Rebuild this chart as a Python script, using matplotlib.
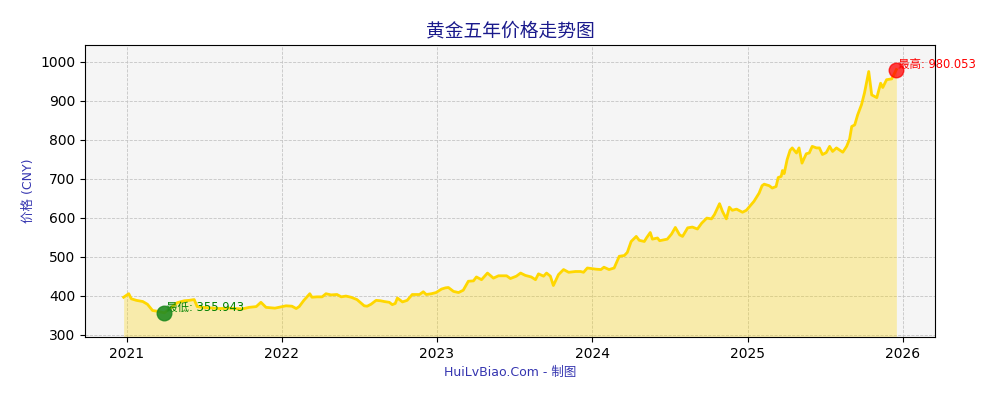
import numpy as np
import pandas as pd
import matplotlib
matplotlib.use('Agg')
import matplotlib.pyplot as plt
import matplotlib.dates as mdates

plt.rcParams['font.family'] = ['DejaVu Sans', 'Noto Sans CJK SC']
plt.rcParams['axes.unicode_minus'] = False

# fechas y precios (aprox.)
dates = [
    '2020-12-25', '2021-01-06', '2021-01-12', '2021-01-24', '2021-02-08', '2021-02-19',
    '2021-03-03', '2021-03-15', '2021-03-31', '2021-04-14', '2021-04-30', '2021-05-17',
    '2021-05-28', '2021-06-09', '2021-06-16', '2021-06-30', '2021-07-14', '2021-08-07',
    '2021-08-30', '2021-09-30', '2021-10-16', '2021-11-02', '2021-11-13', '2021-11-25',
    '2021-12-16',
    '2022-01-11', '2022-01-25', '2022-02-04', '2022-02-11', '2022-02-22', '2022-03-08',
    '2022-03-13', '2022-03-25', '2022-04-06', '2022-04-15', '2022-04-27', '2022-05-11',
    '2022-05-21', '2022-06-01', '2022-06-13', '2022-06-27', '2022-07-14', '2022-07-21',
    '2022-07-30', '2022-08-11', '2022-08-21', '2022-08-30', '2022-09-11', '2022-09-18',
    '2022-09-25', '2022-09-30', '2022-10-12', '2022-10-23', '2022-11-04', '2022-11-21',
    '2022-11-30', '2022-12-07', '2022-12-19', '2022-12-30',
    '2023-01-12', '2023-01-21', '2023-01-28', '2023-02-09', '2023-02-21', '2023-03-04',
    '2023-03-16', '2023-03-28', '2023-04-04', '2023-04-16', '2023-04-30', '2023-05-14',
    '2023-05-26', '2023-06-14', '2023-06-23', '2023-07-07', '2023-07-17', '2023-07-28',
    '2023-08-11', '2023-08-21', '2023-08-28', '2023-09-09', '2023-09-16', '2023-09-25',
    '2023-10-02', '2023-10-14', '2023-10-26', '2023-11-07', '2023-11-23', '2023-12-05',
    '2023-12-12', '2023-12-21',
    '2024-01-10', '2024-01-22', '2024-01-29', '2024-02-10', '2024-02-22', '2024-03-05',
    '2024-03-17', '2024-03-24', '2024-04-02', '2024-04-14', '2024-04-21', '2024-05-03',
    '2024-05-08', '2024-05-17', '2024-05-22', '2024-06-03', '2024-06-08', '2024-06-26',
    '2024-07-06', '2024-07-15', '2024-07-25', '2024-08-01', '2024-08-13', '2024-08-24',
    '2024-09-05', '2024-09-15', '2024-09-27', '2024-10-08', '2024-10-15', '2024-10-27',
    '2024-11-03', '2024-11-12', '2024-11-19', '2024-11-26', '2024-12-06', '2024-12-20',
    '2024-12-29',
    '2025-01-09', '2025-01-16', '2025-01-28', '2025-02-04', '2025-02-09', '2025-02-21',
    '2025-02-28', '2025-03-09', '2025-03-14', '2025-03-21', '2025-03-24', '2025-03-28',
    '2025-04-04', '2025-04-11', '2025-04-16', '2025-04-26', '2025-05-02', '2025-05-09',
    '2025-05-19', '2025-05-26', '2025-06-02', '2025-06-12', '2025-06-19', '2025-06-26',
    '2025-07-05', '2025-07-13', '2025-07-20', '2025-07-29', '2025-08-10', '2025-08-13',
    '2025-08-22', '2025-08-29', '2025-09-03', '2025-09-10', '2025-09-17', '2025-09-26',
    '2025-10-03', '2025-10-13', '2025-10-20', '2025-11-01', '2025-11-10', '2025-11-15',
    '2025-11-24', '2025-12-06', '2025-12-17',
]
prices = [
    396, 405, 392, 388, 385, 378,
    362, 360, 355.943, 368, 382, 387,
    388, 390, 372, 370, 369, 367,
    368, 366, 370, 372, 383, 370,
    368,
    374, 373, 367, 372, 388, 405,
    396, 397, 397, 405, 402, 403,
    397, 399, 396, 390, 374, 373,
    378, 388, 387, 385, 383, 377,
    380, 394, 384, 388, 403, 403,
    410, 403, 405, 408,
    417, 420, 421, 411, 408, 414,
    437, 438, 448, 441, 458, 445,
    451, 451, 444, 450, 458, 452,
    448, 441, 456, 450, 458, 450,
    426, 454, 467, 460, 462, 462,
    460, 471,
    468, 467, 473, 467, 471, 501,
    503, 511, 539, 552, 542, 539,
    548, 562, 545, 548, 541, 545,
    558, 575, 556, 552, 574, 576,
    571, 586, 599, 597, 608, 636,
    616, 597, 627, 619, 622, 614,
    619,
    633, 642, 663, 682, 686, 682,
    676, 680, 703, 706, 721, 713,
    749, 773, 779, 766, 779, 740,
    764, 766, 783, 779, 779, 762,
    767, 783, 770, 779, 770, 768,
    783, 802, 834, 838, 864, 890,
    920, 975, 915, 908, 945, 934,
    954, 956, 980.053,
]

x = pd.to_datetime(dates)
y = np.array(prices)

i_min = int(np.argmin(y))
i_max = int(np.argmax(y))

fig = plt.figure(figsize=(10, 4), dpi=100)
ax = fig.add_axes([0.085, 0.1575, 0.85, 0.73])
ax.set_facecolor('#f5f5f5')

ax.plot(x, y, color='#FFD700', linewidth=2, zorder=3)
ax.fill_between(x, y, 0, color='#FFD700', alpha=0.3, linewidth=0, zorder=2)

# minimo y maximo
ax.scatter([x[i_min]], [y[i_min]], s=110, color='forestgreen', alpha=0.9, zorder=4)
ax.scatter([x[i_max]], [y[i_max]], s=110, color='red', alpha=0.75, zorder=4)
ax.annotate('最低: %.3f' % y[i_min], xy=(x[i_min], y[i_min]), xytext=(1, -1),
            textcoords='offset points', ha='left', va='bottom', fontsize=8.3, color='green')
ax.annotate('最高: %.3f' % y[i_max], xy=(x[i_max], y[i_max]), xytext=(1, -1),
            textcoords='offset points', ha='left', va='bottom', fontsize=8.3, color='red')

ax.set_ylim(294, 1043)
ax.set_yticks(np.arange(300, 1001, 100))
ax.xaxis.set_major_locator(mdates.YearLocator())
ax.xaxis.set_major_formatter(mdates.DateFormatter('%Y'))
ax.grid(True, linestyle='--', color='#c4c4c4', linewidth=0.6)
ax.set_axisbelow(True)

ax.set_title('黄金五年价格走势图', fontsize=13.5, color='#1a1a8c', pad=6)
ax.set_ylabel('价格 (CNY)', fontsize=9, color='#3535b0')
ax.set_xlabel('HuiLvBiao.Com - 制图', fontsize=9, color='#3535b0')

fig.savefig('out.png', dpi=100)
